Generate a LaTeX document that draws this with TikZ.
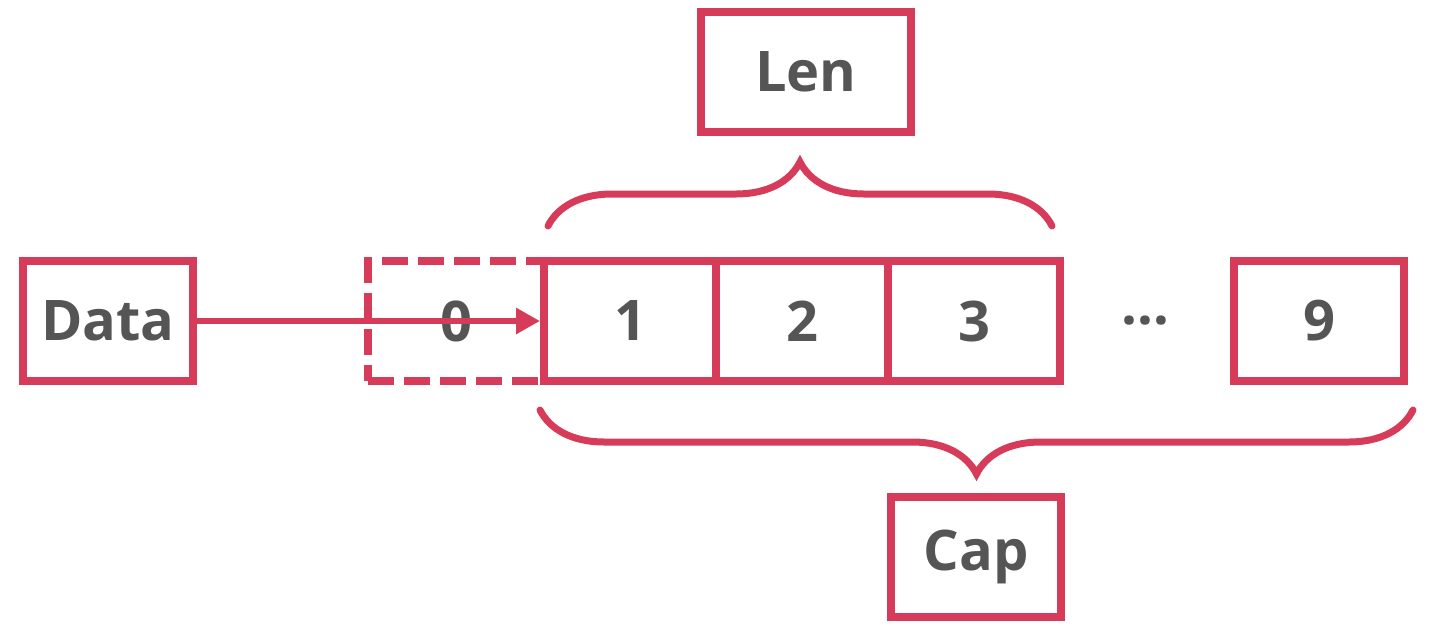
\documentclass[tikz,border=0pt]{standalone}
\usepackage{fontspec}
\setmainfont{Open Sans}
\usetikzlibrary{arrows.meta,decorations.pathreplacing}
\definecolor{slred}{RGB}{214,60,90}
\definecolor{slgray}{RGB}{85,85,85}

\begin{document}
\begin{tikzpicture}[x=0.5pt,y=-0.5pt,line width=4pt,
  box/.style={draw=slred,rectangle,minimum width=86pt,minimum height=60pt,
    inner sep=0pt,text=slgray,font=\fontsize{28}{30}\selectfont\bfseries},
  ghost/.style={box,dash pattern=on 13pt off 5pt},
  curly/.style={draw=slred,line width=3.5pt,line cap=round,decorate,
    decoration={brace,amplitude=32pt}}]
  \useasboundingbox (0,0) rectangle (1431,632);
  % boxes
  \node[box,minimum width=105pt] (len) at (806,72) {Len};
  \node[box,minimum width=85pt] (data) at (108,321) {Data};
  \node[ghost,minimum width=88pt] (c0) at (456,321) {0};
  \node[box] (c1) at (630,321) {1};
  \node[box] (c2) at (802,321) {2};
  \node[box] (c3) at (974,321) {3};
  \node[text=slgray,font=\fontsize{28}{30}\selectfont\bfseries] (dots) at (1145,321) {…};
  \node[box,minimum width=85pt] (c9) at (1319,321) {9};
  \node[box,minimum width=85pt] (cap) at (976,557) {Cap};
  % pointer
  \draw[slred,line width=3pt,-{Triangle[length=12pt,width=12.5pt]}] (data.east) -- (c1.west);
  % braces
  \draw[curly] (548,226) -- (1052,226);
  \draw[curly] (1413,410) -- (540,410);
\end{tikzpicture}
\end{document}
